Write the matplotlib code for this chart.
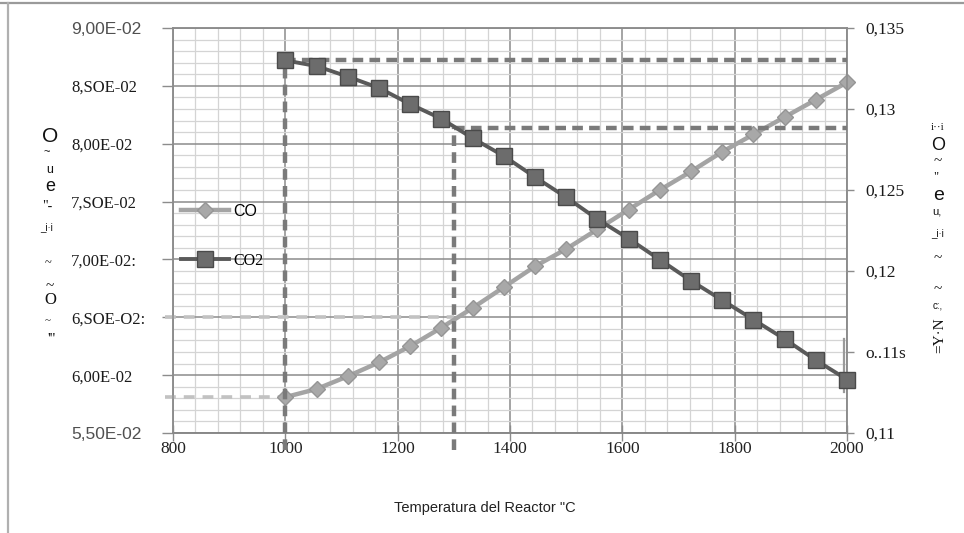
import matplotlib
matplotlib.use('Agg')
import matplotlib.pyplot as plt
from matplotlib.lines import Line2D
from matplotlib.ticker import FixedLocator, MultipleLocator, FixedFormatter

# ---------------- data ----------------
temperature = [1000, 1055.6, 1111.1, 1166.7, 1222.2, 1277.8, 1333.3, 1388.9, 1444.4, 1500,
               1555.6, 1611.1, 1666.7, 1722.2, 1777.8, 1833.3, 1888.9, 1944.4, 2000]
co_frac = [0.0581, 0.0588, 0.0599, 0.0611, 0.0625, 0.0641, 0.0658, 0.0676, 0.0694, 0.0709,
           0.0726, 0.0743, 0.0760, 0.0776, 0.0793, 0.0808, 0.0823, 0.0838, 0.0853]
co2_frac = [0.1330, 0.13265, 0.1320, 0.1313, 0.1303, 0.1294, 0.1282, 0.1271, 0.1258, 0.12455,
            0.1232, 0.1220, 0.1207, 0.1194, 0.1182, 0.1170, 0.1158, 0.1145, 0.1133]
ref_temp = [1000, 1300]
ref_co = [0.0581, 0.0650]
ref_co2 = [0.1330, 0.1288]

x_ticks = [800, 1000, 1200, 1400, 1600, 1800, 2000]
x_tick_labels = ['800', '1000', '1200', '1400', '1600', '1800', '2000']
left_ticks = [0.055, 0.060, 0.065, 0.070, 0.075, 0.080, 0.085, 0.090]
left_tick_labels = ['5,50E-02', '6,00E-02', '6,SOE-O2:', '7,00E-02:', '7,SOE-02',
                    '8,00E-02', '8,SOE-02', '9,00E-02']
right_ticks = [0.110, 0.115, 0.120, 0.125, 0.130, 0.135]
right_tick_labels = ['0,11', 'o..11s', '0,12', '0,125', '0,13', '0,135']
series_labels = ['CO', 'CO2']
x_label = 'Temperatura del Reactor "C'

# ---------------- figure ----------------
W, H = 964, 533
fig = plt.figure(figsize=(W / 100, H / 100), dpi=100)
fig.patch.set_facecolor('white')

def fx(px):
    return px / W

def fy(py):
    return 1 - py / H

ax = fig.add_axes([fx(173), fy(433), fx(847) - fx(173), fy(28) - fy(433)])
ax2 = ax.twinx()

ax.set_xlim(800, 2000)
ax.set_ylim(0.055, 0.090)
ax2.set_ylim(0.110, 0.135)

# grid
ax.xaxis.set_major_locator(FixedLocator(x_ticks))
ax.xaxis.set_minor_locator(MultipleLocator(40))
ax.yaxis.set_major_locator(FixedLocator(left_ticks))
ax.yaxis.set_minor_locator(MultipleLocator(0.001))
ax.grid(True, which='minor', color='#d4d4d4', lw=0.9)
ax.grid(True, which='major', color='#8c8c8c', lw=1.1)
ax.set_axisbelow(True)
ax.tick_params(which='minor', length=0)

ax2.yaxis.set_major_locator(FixedLocator(right_ticks))

for a in (ax, ax2):
    for s in a.spines.values():
        s.set_color('#8c8c8c')
        s.set_linewidth(1.1)
ax.spines['bottom'].set_color('#6e6e6e')

# tick labels
ax.xaxis.set_major_formatter(FixedFormatter(x_tick_labels))
ax.yaxis.set_major_formatter(FixedFormatter(left_tick_labels))
ax2.yaxis.set_major_formatter(FixedFormatter(right_tick_labels))

ax.tick_params(axis='x', which='major', direction='inout', length=11, width=1,
               color='#8c8c8c', pad=0)
ax.tick_params(axis='y', which='major', direction='out', length=8, width=1,
               color='#8c8c8c', pad=65.5)
ax2.tick_params(axis='y', which='major', direction='out', length=5, width=1,
                color='#8c8c8c', pad=8)

for lab in ax.get_yticklabels():
    lab.set_horizontalalignment('left')

serif = ['Liberation Serif', 'DejaVu Serif']
sans = ['Liberation Sans', 'DejaVu Sans']
for lab in ax.get_xticklabels():
    lab.set_fontfamily(serif)
    lab.set_fontsize(12.5)
    lab.set_color('#222222')
for lab in ax.get_yticklabels():
    t = lab.get_text()
    if t in ('9,00E-02', '5,50E-02'):
        lab.set_fontfamily(sans)
        lab.set_fontsize(12.5)
        lab.set_color('#505050')
    else:
        lab.set_fontfamily(serif)
        lab.set_fontsize(12)
        lab.set_color('#1a1a1a')
for lab in ax2.get_yticklabels():
    lab.set_fontfamily(serif)
    lab.set_fontsize(12.5)
    lab.set_color('#1a1a1a')

# ---------------- reference dashed lines ----------------
dark_dash = dict(color='#7a7a7a', lw=3.2, dashes=(2.4, 1.4), zorder=3)
light_dash = dict(color='#c2c2c2', lw=2.6, dashes=(3, 2.2), zorder=3)
y2_lo = ax2.get_ylim()[0] - 0.00105
for t, c2 in zip(ref_temp, ref_co2):
    ax2.plot([t, t], [y2_lo, c2], clip_on=False, **dark_dash)
    ax2.plot([t, ax.get_xlim()[1]], [c2, c2], **dark_dash)
x_lo = ax.get_xlim()[0] - 14
for t, c in zip(ref_temp, ref_co):
    ax.plot([x_lo, t], [c, c], clip_on=False, **light_dash)

# ---------------- series ----------------
co_style = dict(color='#a4a4a4', lw=3.2, marker='D', markersize=8,
                markerfacecolor='#a8a8a8', markeredgecolor='#959595')
co2_style = dict(color='#5a5a5a', lw=2.8, marker='s', markersize=11,
                 markerfacecolor='#6c6c6c', markeredgecolor='#4a4a4a')
ax.plot(temperature, co_frac, zorder=5, clip_on=False, **co_style)
ax2.plot(temperature, co2_frac, zorder=6, clip_on=False, **co2_style)

# small artifact bar at right end
ax2.plot([temperature[-1] - 6, temperature[-1] - 6], [co2_frac[-1] - 0.0008, co2_frac[-1] + 0.0025],
         color='#9a9a9a', lw=1.6, zorder=4, clip_on=False)

# legend
handles = [Line2D([], [], **co_style), Line2D([], [], **co2_style)]
leg = ax.legend(handles, series_labels, loc='upper left',
                bbox_to_anchor=(fx(181), fy(204)), bbox_transform=fig.transFigure,
                frameon=False, handlelength=3.0, handletextpad=0.25,
                labelspacing=2.1, borderpad=0, borderaxespad=0, fontsize=11.5)
leg.get_texts()[0].set_fontfamily(sans)
leg.get_texts()[1].set_fontfamily(serif)
leg.set_zorder(7)

# x label
fig.text(fx(485), fy(508), x_label, ha='center', va='center', fontsize=10.5,
         family=sans, color='#222222')

# garbled axis titles (as scanned)
left_glyphs = [(50, 137, 'O', 15, sans, 0), (47, 152, '~', 8, sans, 0),
               (50, 170, 'u', 9, sans, 0), (50, 186, 'e', 13, sans, 0),
               (47, 206, '"-', 10, serif, 0), (47, 227, '_i·i', 7, sans, 0),
               (48, 263, '~', 9, serif, 0), (50, 287, '~', 11, serif, 0),
               (50, 300, 'O', 12, serif, 0), (48, 321, '~', 8, serif, 0),
               (51, 339, "'''", 11, serif, 0)]
right_glyphs = [(938, 127, 'i··i', 8, serif, 0), (938, 145, 'O', 13, sans, 0),
                (938, 162, '~', 11, serif, 0), (936, 177, '"', 9, serif, 0),
                (939, 195, 'e', 14, sans, 0), (937, 212, 'u,', 8, sans, 0),
                (938, 233, '_i·i', 7, sans, 0), (938, 259, '~', 11, serif, 0),
                (938, 290, '~', 11, serif, 0), (938, 305, 'c:,', 7, sans, 0),
                (940, 335, '=Y·N', 11, serif, 90)]
for px, py, s, size, fam, rot in left_glyphs + right_glyphs:
    fig.text(fx(px), fy(py), s, ha='center', va='center', fontsize=size,
             family=fam, rotation=rot, color='#111111')

# scan frame lines
fig.add_artist(Line2D([0, 1], [fy(3), fy(3)], transform=fig.transFigure,
                      color='#9a9a9a', lw=1.6))
fig.add_artist(Line2D([fx(8), fx(8)], [0, fy(3)], transform=fig.transFigure,
                      color='#b0b0b0', lw=1.6))

fig.savefig('out.png', dpi=100)
